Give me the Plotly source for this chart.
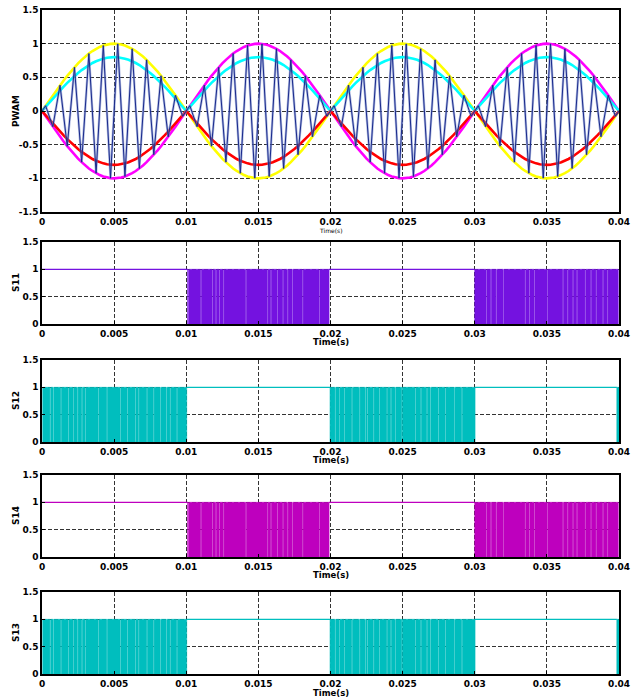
import numpy as np
import plotly.graph_objects as go

# ---------------- data ----------------
time_ticks = [0, 0.005, 0.01, 0.015, 0.02, 0.025, 0.03, 0.035, 0.04]
time_tick_labels = ["0", "0.005", "0.01", "0.015", "0.02", "0.025", "0.03", "0.035", "0.04"]
pwam_ticks = [-1.5, -1, -0.5, 0, 0.5, 1, 1.5]
pwam_tick_labels = ["-1.5", "-1", "-0.5", "0", "0.5", "1", "1.5"]
gate_ticks = [0, 0.5, 1, 1.5]
gate_tick_labels = ["0", "0.5", "1", "1.5"]

sample_step = 0.00025  # s between reference samples
# reference magnitude read over a quarter cycle (0 .. 0.005 s)
quarter_wave = [0.0, 0.078, 0.156, 0.233, 0.309, 0.383, 0.454, 0.523, 0.588, 0.649,
                0.707, 0.760, 0.809, 0.853, 0.891, 0.924, 0.951, 0.972, 0.988, 0.997, 1.0]
half_cycle_sign = [1, -1, 1, -1]      # sign of the yellow reference per half cycle
mod_index = 0.8                       # cyan / red amplitude

# gate signals: switching intervals, gaps (off instants) and held-high intervals
s11_active = [[0.0101, 0.0199], [0.0300, 0.03995]]
s11_gaps = [0.01014, 0.0110, 0.0118, 0.01204, 0.01229, 0.01257, 0.01412, 0.01562, 0.01585,
            0.01631, 0.01669, 0.01701, 0.01735, 0.01805, 0.01922,
            0.03078, 0.0311, 0.03147, 0.03198, 0.03348, 0.03378, 0.03411, 0.03503, 0.0361,
            0.03642, 0.03679, 0.03707, 0.03764, 0.03804, 0.0384, 0.03887, 0.03919]
s11_hold = [[0.0, 0.0101], [0.0199, 0.0300]]

s12_active = [[0.00005, 0.01003], [0.01997, 0.03002], [0.03985, 0.04]]
s12_gaps = [0.00055, 0.00078, 0.0013, 0.00182, 0.00217, 0.00245, 0.00275, 0.00298, 0.0039,
            0.00449, 0.00541, 0.00591, 0.00645, 0.00668, 0.00726, 0.00772, 0.00818, 0.0086,
            0.00887, 0.00934,
            0.02031, 0.02061, 0.02094, 0.02147, 0.022, 0.02239, 0.02255, 0.02297, 0.02338,
            0.0239, 0.02417, 0.02447, 0.02494, 0.02586, 0.02625, 0.02667, 0.0269, 0.02747,
            0.02794, 0.02856, 0.02909]
s12_hold = [[0.01003, 0.01997], [0.03002, 0.03985]]

s14_active = [[0.0101, 0.0199], [0.0300, 0.03995]]
s14_gaps = s11_gaps
s14_hold = [[0.0, 0.0101], [0.0199, 0.0300]]

s13_active = [[0.00005, 0.01003], [0.01997, 0.03002], [0.03985, 0.04]]
s13_gaps = s12_gaps
s13_hold = [[0.01003, 0.01997], [0.03002, 0.03985]]

gate_names = ["S11", "S12", "S14", "S13"]
gate_colors = ["#7412E0", "#00BEBE", "#BE00BE", "#00BEBE"]

# ---------------- build series ----------------
half_wave = quarter_wave + quarter_wave[-2::-1]          # 41 samples, 0 .. 0.01 s
n_half = len(half_wave) - 1
n_total = n_half * len(half_cycle_sign)
t = np.arange(n_total + 1) * sample_step
mag = np.array([half_wave[k % n_half] if k < n_total else 0.0 for k in range(n_total + 1)])
sgn = np.array([half_cycle_sign[min(k // n_half, len(half_cycle_sign) - 1)] for k in range(n_total + 1)])

yellow = sgn * mag
magenta = -yellow
cyan = mod_index * mag
red = -mod_index * mag

# carrier vertices (odd samples), alternating at the envelope
idx = [0] + list(range(1, n_total, 2)) + [n_total]
car_x = t[idx]
car_y = np.array([0.0 if (k == 0 or k == n_total) else (mag[k] if k % 4 == 1 else -mag[k]) for k in idx])

gap_w = 0.00005


def gate_signal(active, gaps):
    out = []
    for a, b in active:
        xs, ys = [a, a], [0, 1]
        for g in gaps:
            if a < g < b - gap_w:
                xs += [g, g + gap_w]
                ys += [0, 1]
        xs.append(b)
        ys.append(0)
        out.append((xs, ys))
    return out


# ---------------- figure ----------------
W, H = 639, 700
x0, x1 = 42 / W, 619 / W
panels_px = [(10, 212), (242, 324), (360, 442), (475, 557), (592, 674)]
domains = [[1 - b / H, 1 - a / H] for a, b in panels_px]

fig = go.Figure()

lw = 2.6
for ys, col in [(yellow, "#FFFF00"), (magenta, "#FF00FF"), (cyan, "#00FFFF"), (red, "#FF0000")]:
    fig.add_trace(go.Scatter(x=t, y=ys, mode="lines", line=dict(color=col, width=lw),
                             xaxis="x", yaxis="y", hoverinfo="skip"))
fig.add_trace(go.Scatter(x=car_x, y=car_y, mode="lines",
                         line=dict(color="rgba(110,130,200,0.55)", width=2.4),
                         xaxis="x", yaxis="y", hoverinfo="skip"))
fig.add_trace(go.Scatter(x=car_x, y=car_y, mode="lines",
                         line=dict(color="#1A2A8C", width=1.0),
                         xaxis="x", yaxis="y", hoverinfo="skip"))

gate_data = [(s11_active, s11_gaps, s11_hold), (s12_active, s12_gaps, s12_hold),
             (s14_active, s14_gaps, s14_hold), (s13_active, s13_gaps, s13_hold)]

for i, ((active, gaps, hold), col) in enumerate(zip(gate_data, gate_colors)):
    ax = str(i + 2)
    hx, hy = [], []
    for a, b in hold:
        hx += [a, b, None]
        hy += [1, 1, None]
    fig.add_trace(go.Scatter(x=hx, y=hy, mode="lines", line=dict(color=col, width=1.2),
                             xaxis="x" + ax, yaxis="y" + ax, hoverinfo="skip"))
    for xs, ys in gate_signal(active, gaps):
        fig.add_trace(go.Scatter(x=xs, y=ys, mode="lines", fill="tozeroy", fillcolor=col,
                                 line=dict(color=col, width=0.6, shape="hv"),
                                 xaxis="x" + ax, yaxis="y" + ax, hoverinfo="skip"))

tick_font = dict(family="DejaVu Sans", size=9, color="black", weight="bold")
common_x = dict(range=[0, 0.04], tickvals=time_ticks, ticktext=time_tick_labels,
                showgrid=True, gridcolor="#333333", griddash="4px,2px", gridwidth=1,
                showline=True, linecolor="black", linewidth=1.5, mirror=True,
                ticks="inside", ticklen=3, tickcolor="black", tickfont=tick_font,
                zeroline=False, domain=[x0, x1], automargin=False, ticklabelstandoff=0)
common_y = dict(showgrid=True, gridcolor="#333333", griddash="4px,2px", gridwidth=1,
                showline=True, linecolor="black", linewidth=1.5, mirror=True,
                ticks="inside", ticklen=3, tickcolor="black", tickfont=tick_font,
                zeroline=False, automargin=False)

layout = dict(width=W, height=H, margin=dict(l=0, r=0, t=0, b=0, autoexpand=False),
              paper_bgcolor="white", plot_bgcolor="white", showlegend=False)
for i in range(5):
    s = "" if i == 0 else str(i + 1)
    xa = dict(common_x)
    xa["anchor"] = "y" + s
    ya = dict(common_y)
    ya["anchor"] = "x" + s
    ya["domain"] = domains[i]
    if i == 0:
        ya.update(range=[-1.5, 1.5], tickvals=pwam_ticks, ticktext=pwam_tick_labels)
    else:
        ya.update(range=[0, 1.5], tickvals=gate_ticks, ticktext=gate_tick_labels)
    layout["xaxis" + s] = xa
    layout["yaxis" + s] = ya
fig.update_layout(**layout)

ylabels = ["PWAM"] + gate_names
time_shift = [-18, -18, -18, -18, -19]
for i in range(5):
    s = "" if i == 0 else str(i + 1)
    fig.add_annotation(text=ylabels[i], xref="paper", x=16 / W, yref="y" + s + " domain", y=0.5,
                       textangle=-90, showarrow=False, xanchor="center", yanchor="middle",
                       font=dict(family="DejaVu Sans", size=9, color="black", weight="bold"))
    fig.add_annotation(text="Time(s)", xref="x" + s + " domain", x=0.5, yref="y" + s + " domain", y=0,
                       yshift=time_shift[i], showarrow=False, xanchor="center", yanchor="middle",
                       font=dict(family="DejaVu Sans", size=6 if i == 0 else 8.5, color="black",
                                 weight="normal" if i == 0 else "bold"))

fig.write_html("out.html", config={"displayModeBar": False},
               post_script="document.body.style.margin='0';document.body.style.overflow='hidden';")
